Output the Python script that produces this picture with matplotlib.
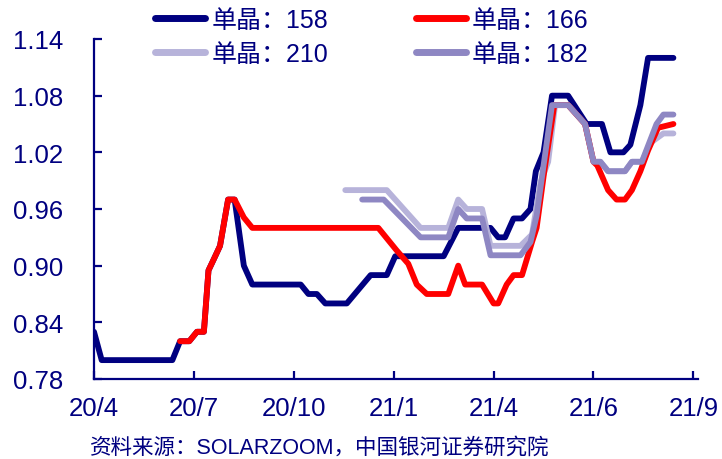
import matplotlib
matplotlib.use("Agg")
import matplotlib.pyplot as plt

plt.rcParams['font.family'] = ['Liberation Sans', 'Noto Sans CJK SC', 'DejaVu Sans']

NAVY = '#000080'

# x: week index (13 per tick interval), y: price
tick_pos = [0, 13, 26, 39, 52, 65, 78]
tick_labels = ['20/4', '20/7', '20/10', '21/1', '21/4', '21/6', '21/9']
y_ticks = [0.78, 0.84, 0.90, 0.96, 1.02, 1.08, 1.14]

x158 = [0, 1, 10.2, 11.2, 12.4, 13.4, 14.3, 14.9, 15.6, 16.4, 17.45, 18.3, 19.5, 20.6,
        26.9, 27.9, 29.0, 30.1, 32.9, 36.0, 38.1, 39.2, 45.5, 47.4, 51.6, 52.6, 53.5,
        54.6, 55.7, 56.8, 57.5, 58.5, 59.6, 61.7, 64.1, 66.1, 67.2, 68.9, 69.8, 71.1,
        72.1, 75.4]
y158 = [0.83, 0.80, 0.80, 0.82, 0.82, 0.83, 0.83, 0.895, 0.907, 0.921, 0.97, 0.97, 0.90, 0.88,
        0.88, 0.87, 0.87, 0.86, 0.86, 0.89, 0.89, 0.91, 0.91, 0.94, 0.94, 0.93, 0.93,
        0.95, 0.95, 0.96, 1.00, 1.02, 1.08, 1.08, 1.05, 1.05, 1.02, 1.02, 1.028, 1.07,
        1.12, 1.12]

x166 = [11.2, 12.4, 13.4, 14.3, 14.9, 15.6, 16.4, 17.45, 18.3, 19.5, 20.6, 37.0, 39.4,
        40.9, 42.0, 43.3, 46.1, 47.4, 48.3, 50.5, 52.0, 52.6, 53.7, 54.6, 55.7, 57.0,
        57.6, 58.6, 59.9, 61.7, 63.9, 65.0, 65.5, 66.9, 68.0, 69.1, 70.0, 71.1, 72.1,
        73.4, 75.4]
y166 = [0.82, 0.82, 0.83, 0.83, 0.895, 0.907, 0.921, 0.97, 0.97, 0.951, 0.94, 0.94, 0.916,
        0.902, 0.88, 0.87, 0.87, 0.90, 0.88, 0.88, 0.86, 0.86, 0.88, 0.89, 0.89, 0.925,
        0.94, 1.00, 1.07, 1.07, 1.05, 1.01, 1.006, 0.98, 0.97, 0.97, 0.98, 1.00, 1.022,
        1.046, 1.05]

x210 = [32.7, 38.1, 42.5, 46.1, 47.4, 48.5, 50.5, 51.6, 55.5, 57.0, 58.1, 59.1, 60.0,
        61.7, 63.9, 65.0, 65.9, 66.9, 69.1, 70.0, 71.3, 72.4, 74.1, 75.4]
y210 = [0.98, 0.98, 0.94, 0.94, 0.97, 0.96, 0.96, 0.921, 0.921, 0.933, 0.988, 1.01, 1.07,
        1.07, 1.05, 1.01, 1.01, 1.00, 1.00, 1.01, 1.01, 1.03, 1.04, 1.04]

x182 = [34.9, 37.7, 42.5, 46.1, 47.4, 48.5, 50.5, 51.6, 55.5, 56.8, 57.6, 58.4, 59.6,
        61.7, 63.9, 65.0, 65.9, 66.9, 69.1, 70.0, 71.3, 73.2, 74.1, 75.4]
y182 = [0.97, 0.97, 0.93, 0.93, 0.96, 0.95, 0.95, 0.911, 0.911, 0.925, 0.953, 1.00, 1.07,
        1.07, 1.05, 1.01, 1.01, 1.00, 1.00, 1.01, 1.01, 1.05, 1.06, 1.06]

series = [
    ('单晶：158', x158, y158, NAVY, 2),
    ('单晶：166', x166, y166, '#FF0000', 3),
    ('单晶：210', x210, y210, '#B7B3DA', 2.5),
    ('单晶：182', x182, y182, '#8E87C3', 4),
]

fig = plt.figure(figsize=(7.22, 4.60), dpi=100)
ax = fig.add_axes([94/722, 1 - 380/460, (698 - 94)/722, (380 - 40)/460])

handles = {}
for label, xs, ys, color, z in series:
    h, = ax.plot(xs, ys, color=color, lw=4.2, solid_joinstyle='round',
                 solid_capstyle='round', zorder=z, label=label)
    handles[label] = h

ax.set_xlim(0, 78.6)
ax.set_ylim(0.78, 1.14)
ax.set_xticks(tick_pos)
ax.set_xticklabels(tick_labels)
ax.set_yticks(y_ticks)
ax.set_yticklabels([f'{v:.2f}' for v in y_ticks])

for s in ['top', 'right']:
    ax.spines[s].set_visible(False)
for s in ['left', 'bottom']:
    ax.spines[s].set_color(NAVY)
    ax.spines[s].set_linewidth(1.6)
ax.tick_params(axis='both', direction='in', length=6, width=1.6, color=NAVY,
               labelcolor=NAVY, labelsize=18.5)
ax.tick_params(axis='x', pad=12)
ax.tick_params(axis='y', pad=22)
for lab in ax.get_xticklabels() + ax.get_yticklabels():
    lab.set_clip_on(False)

# column-wise fill: col 1 = 158, 210 ; col 2 = 166, 182
order = ['单晶：158', '单晶：210', '单晶：166', '单晶：182']
leg = fig.legend([handles[k] for k in order], order, loc='upper left',
                 bbox_to_anchor=(155/722, 1 - 9/460), ncol=2, frameon=False,
                 fontsize=18, handlelength=2.0, handletextpad=0.25,
                 columnspacing=3.5, labelspacing=0.38, borderpad=0, borderaxespad=0)
for t in leg.get_texts():
    t.set_color(NAVY)
for l in leg.get_lines():
    l.set_linewidth(5)
    l.set_solid_capstyle('round')

fig.text(90/722, 1 - 448/460, '资料来源：SOLARZOOM，中国银河证券研究院', color=NAVY,
         fontsize=15.5, ha='left', va='center')

fig.savefig('out.png', dpi=100)
